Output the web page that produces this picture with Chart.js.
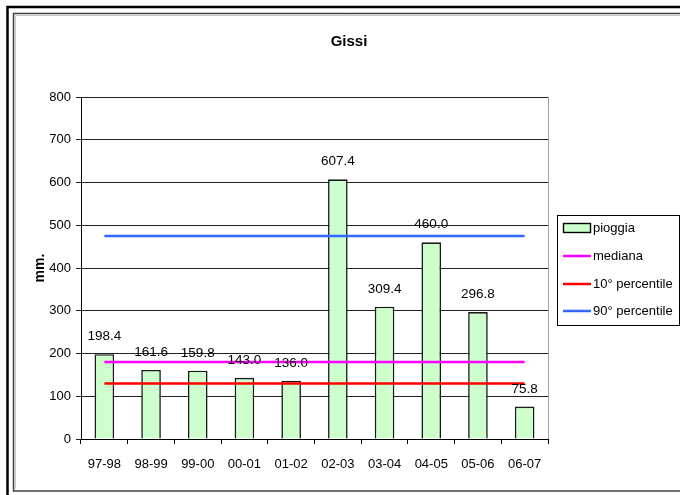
<!DOCTYPE html>
<html>
<head>
<meta charset="utf-8">
<title>Gissi</title>
<script src="https://cdn.jsdelivr.net/npm/chart.js@4/dist/chart.umd.min.js"></script>
<style>
  html, body { margin: 0; padding: 0; background: #fff; }
  #wrap { width: 680px; height: 495px; }
</style>
</head>
<body>
<div id="wrap"><canvas id="c" width="680" height="495"></canvas></div>
<script>
// Rainfall per hydrological year at Gissi (mm)
const years = ['97-98', '98-99', '99-00', '00-01', '01-02', '02-03', '03-04', '04-05', '05-06', '06-07'];
const pioggia = [198.4, 161.6, 159.8, 143.0, 136.0, 607.4, 309.4, 460.0, 296.8, 75.8];
// Reference levels, constant over all years
const mediana = [180.0, 180.0, 180.0, 180.0, 180.0, 180.0, 180.0, 180.0, 180.0, 180.0];
const perc10 = [130.0, 130.0, 130.0, 130.0, 130.0, 130.0, 130.0, 130.0, 130.0, 130.0];
const perc90 = [474.7, 474.7, 474.7, 474.7, 474.7, 474.7, 474.7, 474.7, 474.7, 474.7];
const yTicks = [0, 100, 200, 300, 400, 500, 600, 700, 800];

const FONT = "'Liberation Sans', Arial, sans-serif";

// White background plus the double frame around the chart object
const framePlugin = {
  id: 'frame',
  beforeDraw(chart) {
    const ctx = chart.ctx;
    ctx.save();
    ctx.fillStyle = '#fff';
    ctx.fillRect(0, 0, chart.width, chart.height);
    // outer black frame
    ctx.strokeStyle = '#000';
    ctx.lineWidth = 2.5;
    ctx.beginPath();
    ctx.moveTo(7.5, 495); ctx.lineTo(7.5, 7); ctx.lineTo(680, 7);
    ctx.stroke();
    // inner grey frame
    ctx.strokeStyle = '#404040';
    ctx.lineWidth = 1.5;
    ctx.beginPath();
    ctx.moveTo(680, 13.5); ctx.lineTo(13.5, 13.5); ctx.lineTo(13.5, 491); ctx.lineTo(680, 491);
    ctx.stroke();
    ctx.strokeStyle = '#c8c8c8';
    ctx.lineWidth = 1;
    ctx.beginPath();
    ctx.moveTo(680, 15.5); ctx.lineTo(15.5, 15.5); ctx.lineTo(15.5, 489);
    ctx.stroke();
    ctx.restore();
  },
  afterDraw(chart) {
    const ctx = chart.ctx;
    const a = chart.chartArea;
    ctx.save();
    // light right border of the plot area
    ctx.strokeStyle = '#a0a0a0';
    ctx.lineWidth = 1;
    ctx.beginPath();
    ctx.moveTo(a.right + 0.5, a.top);
    ctx.lineTo(a.right + 0.5, a.bottom);
    ctx.stroke();
    // title
    ctx.fillStyle = '#000';
    ctx.font = "bold 15px " + FONT;
    ctx.textAlign = 'center';
    ctx.textBaseline = 'middle';
    ctx.fillText('Gissi', 349, 42);
    ctx.restore();
  }
};

// Value labels above each bar
const valueLabels = {
  id: 'valueLabels',
  afterDatasetsDraw(chart) {
    const ctx = chart.ctx;
    const meta = chart.getDatasetMeta(0);
    ctx.save();
    ctx.fillStyle = '#000';
    ctx.font = "13.5px " + FONT;
    ctx.textAlign = 'center';
    ctx.textBaseline = 'bottom';
    meta.data.forEach((bar, i) => {
      ctx.fillText(pioggia[i].toFixed(1), bar.x, bar.y - 11);
    });
    ctx.restore();
  }
};

// Boxed legend on the right
const boxLegend = {
  id: 'boxLegend',
  afterDraw(chart) {
    const ctx = chart.ctx;
    const x0 = 557.5, y0 = 215.5, w = 122, h = 110;
    ctx.save();
    ctx.strokeStyle = '#000';
    ctx.lineWidth = 1;
    ctx.strokeRect(x0, y0, w, h);
    const rows = [228, 256, 284, 311];
    ctx.font = "13px " + FONT;
    ctx.textAlign = 'left';
    ctx.textBaseline = 'middle';
    chart.data.datasets.forEach((ds, i) => {
      const y = rows[i];
      if (ds.type === 'line') {
        ctx.strokeStyle = ds.borderColor;
        ctx.lineWidth = 2.5;
        ctx.beginPath();
        ctx.moveTo(563, y);
        ctx.lineTo(591, y);
        ctx.stroke();
      } else {
        ctx.fillStyle = ds.backgroundColor;
        ctx.fillRect(563.5, y - 4.5, 27, 9);
        ctx.strokeStyle = '#000';
        ctx.lineWidth = 1.4;
        ctx.strokeRect(563.5, y - 4.5, 27, 9);
      }
      ctx.fillStyle = '#000';
      ctx.fillText(ds.label, 593, y);
    });
    ctx.restore();
  }
};

const lineDs = (label, data, color) => ({
  type: 'line',
  label: label,
  data: data,
  borderColor: color,
  borderWidth: 2.5,
  pointRadius: 0,
  pointHoverRadius: 0,
  fill: false,
  tension: 0,
  order: 0
});

new Chart(document.getElementById('c'), {
  type: 'bar',
  data: {
    labels: years,
    datasets: [
      {
        type: 'bar',
        label: 'pioggia',
        data: pioggia,
        backgroundColor: '#ccffcc',
        borderColor: '#1a1a1a',
        borderWidth: 1.6,
        barPercentage: 0.42,
        categoryPercentage: 1,
        order: 5
      },
      lineDs('mediana', mediana, '#ff00ff'),
      lineDs('10° percentile', perc10, '#ff0000'),
      lineDs('90° percentile', perc90, '#3366ff')
    ]
  },
  options: {
    responsive: false,
    animation: false,
    events: [],
    layout: { padding: { left: 14, top: 97, right: 132, bottom: 26 } },
    plugins: {
      legend: { display: false },
      title: { display: false },
      tooltip: { enabled: false }
    },
    scales: {
      x: {
        offset: true,
        grid: {
          display: true,
          offset: true,
          drawOnChartArea: false,
          drawTicks: true,
          tickLength: 5,
          color: '#000'
        },
        border: { display: true, color: '#000', width: 1 },
        ticks: {
          color: '#000',
          font: { family: FONT, size: 13 },
          padding: 13,
          maxRotation: 0,
          autoSkip: false
        },
        afterFit(scale) { scale.height = 30; }
      },
      y: {
        min: 0,
        max: 800,
        afterBuildTicks(scale) { scale.ticks = yTicks.map(v => ({ value: v })); },
        grid: {
          color: '#222',
          lineWidth: 1,
          drawTicks: true,
          tickLength: 5
        },
        border: { display: true, color: '#000', width: 1 },
        ticks: {
          color: '#000',
          font: { family: FONT, size: 13 },
          padding: 5
        },
        title: {
          display: true,
          text: 'mm.',
          color: '#000',
          font: { family: FONT, size: 14, weight: 'bold' },
          padding: { top: 18, bottom: 0 }
        },
        afterFit(scale) { scale.width = 67; }
      }
    }
  },
  plugins: [framePlugin, valueLabels, boxLegend]
});
</script>
</body>
</html>
